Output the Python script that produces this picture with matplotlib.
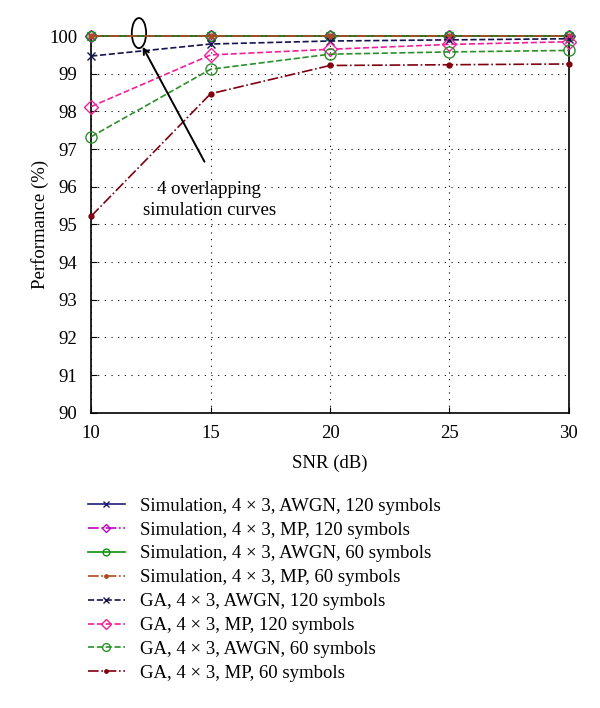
import matplotlib.pyplot as plt
from matplotlib.patches import Ellipse

plt.rcParams['font.family'] = ['Liberation Serif', 'DejaVu Serif']

snr = [10, 15, 20, 25, 30]

sim_awgn_120 = [100, 100, 100, 100, 100]
sim_mp_120 = [100, 100, 100, 100, 100]
sim_awgn_60 = [100, 100, 100, 100, 100]
sim_mp_60 = [100, 100, 100, 100, 100]
ga_awgn_120 = [99.47, 99.79, 99.87, 99.90, 99.93]
ga_mp_120 = [98.13, 99.50, 99.65, 99.78, 99.85]
ga_awgn_60 = [97.33, 99.12, 99.52, 99.58, 99.62]
ga_mp_60 = [95.22, 98.47, 99.22, 99.24, 99.26]

fig = plt.figure(figsize=(6, 7.08), dpi=100)
ax = fig.add_axes([0.152, 0.417, 0.796, 0.532])

lines = [
    (sim_awgn_120, '#1c1c78', '-', 'x', 6, 'Simulation, 4 × 3, AWGN, 120 symbols'),
    (sim_mp_120, '#c000c0', '-.', 'D', 6, 'Simulation, 4 × 3, MP, 120 symbols'),
    (sim_awgn_60, '#109010', '-', 'o', 7, 'Simulation, 4 × 3, AWGN, 60 symbols'),
    (sim_mp_60, '#b04a20', '-.', 'o', 3.5, 'Simulation, 4 × 3, MP, 60 symbols'),
    (ga_awgn_120, '#141450', '--', 'x', 6, 'GA, 4 × 3, AWGN, 120 symbols'),
    (ga_mp_120, '#f0209a', '--', 'D', 7, 'GA, 4 × 3, MP, 120 symbols'),
    (ga_awgn_60, '#2a902a', '--', 'o', 8, 'GA, 4 × 3, AWGN, 60 symbols'),
    (ga_mp_60, '#800010', '-.', 'o', 3.5, 'GA, 4 × 3, MP, 60 symbols'),
]
for y, c, ls, m, ms, lab in lines:
    mfc = c if ms < 4 or m == 'x' else 'none'
    ax.plot(snr, y, color=c, linestyle=ls, marker=m, ms=ms, mfc=mfc, lw=1.2,
            label=lab, clip_on=False, zorder=3)

ax.set_xlim(10, 30)
ax.set_ylim(90, 100)
ax.set_xticks(snr)
ax.set_yticks(range(90, 101))
ax.grid(True, color='black', linestyle=(0, (1, 5)), lw=0.8)
ax.tick_params(labelsize=13.5, direction='in', length=4)
ax.tick_params(axis='x', pad=9)
ax.tick_params(axis='y', pad=10)
ax.set_xlabel('SNR (dB)', fontsize=13.5, labelpad=9)
ax.set_ylabel('Performance (%)', fontsize=13.5, labelpad=0)
for s in ax.spines.values():
    s.set_linewidth(1.2)

# annotation
ax.add_patch(Ellipse((12.0, 100.08), 0.6, 0.8, fill=False, edgecolor='black', lw=1.3, clip_on=False))
ax.annotate('', xy=(12.1, 99.78), xytext=(14.8, 96.6),
            arrowprops=dict(arrowstyle='->', color='black', lw=1.4))
ax.text(14.95, 95.65, '4 overlapping\nsimulation curves', ha='center', va='center',
        fontsize=13.5, linespacing=1.35)

leg = fig.legend(loc='upper left', bbox_to_anchor=(0.118, 0.321), frameon=False, fontsize=13.5,
                 handlelength=2.0, labelspacing=0.36, handletextpad=0.8, markerscale=0.7)

fig.savefig('out.png', dpi=100)
